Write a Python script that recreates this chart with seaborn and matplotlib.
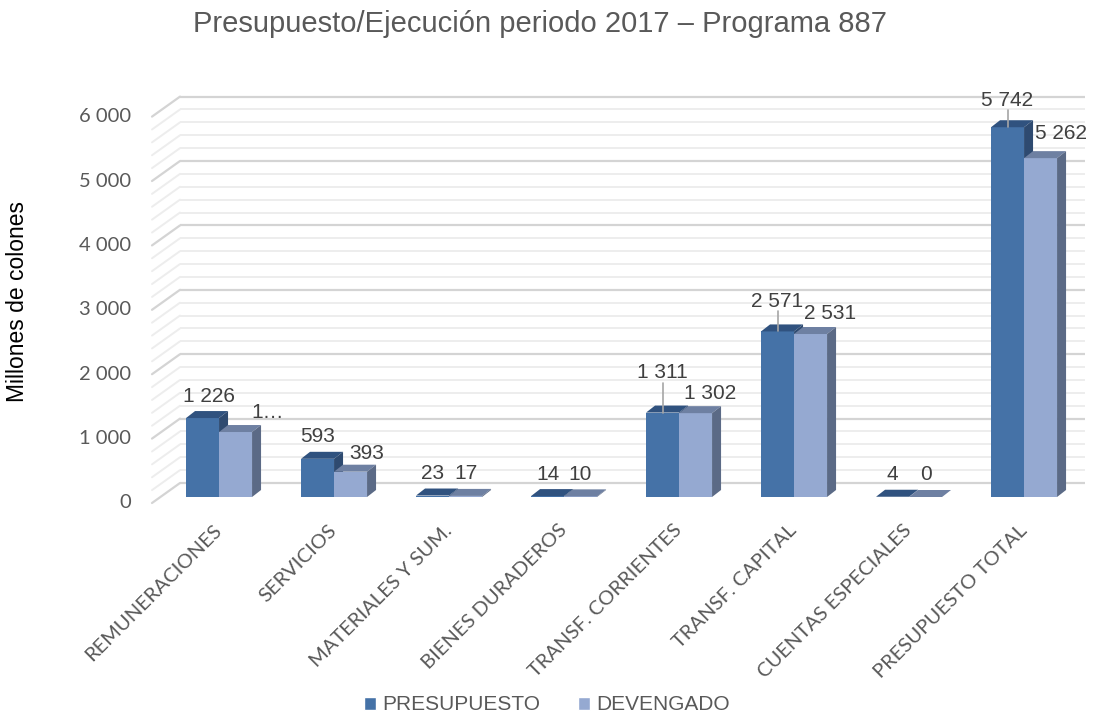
import matplotlib
matplotlib.use("Agg")
import matplotlib.pyplot as plt
from matplotlib.patches import Polygon, Patch
import seaborn as sns
import pandas as pd

# ---------------- data ----------------
categories = ["REMUNERACIONES", "SERVICIOS", "MATERIALES Y SUM.", "BIENES DURADEROS",
              "TRANSF. CORRIENTES", "TRANSF. CAPITAL", "CUENTAS ESPECIALES", "PRESUPUESTO TOTAL"]
presupuesto = [1226, 593, 23, 14, 1311, 2571, 4, 5742]
devengado = [1009, 393, 17, 10, 1302, 2531, 0, 5262]
series_names = ["PRESUPUESTO", "DEVENGADO"]
y_ticks = [0, 1000, 2000, 3000, 4000, 5000, 6000]
title = "Presupuesto/Ejecución periodo 2017 – Programa 887"
y_title = "Millones de colones"

def fmt(v):
    return f"{v:,}".replace(",", " ")

# labels as shown in the picture (one is truncated by the original chart)
label_texts = [[fmt(v) for v in presupuesto], [fmt(v) for v in devengado]]
label_texts[1][0] = "1…"

# ---------------- style ----------------
DARK = "#4572a7"; DARK_TOP = "#30527f"; DARK_SIDE = "#2e4a70"
LIGHT = "#95a9d1"; LIGHT_TOP = "#6e80a2"; LIGHT_SIDE = "#5b6a86"
TXT = "#595959"; LBL = "#404040"
GRID_MAJ = "#d4d4d4"; GRID_MIN = "#ededed"

sns.set_style("white")
plt.rcParams["font.family"] = ["Liberation Sans", "DejaVu Sans"]

df = pd.DataFrame({
    "categoria": categories * 2,
    "valor": presupuesto + devengado,
    "serie": [series_names[0]] * len(categories) + [series_names[1]] * len(categories),
})

W, H = 1094, 715
fig = plt.figure(figsize=(W / 100, H / 100), dpi=100)
ax_l, ax_r, ax_b, ax_t = 152, 1085, 497, 90
ax = fig.add_axes([ax_l / W, 1 - ax_b / H, (ax_r - ax_l) / W, (ax_b - ax_t) / H])

sns.barplot(data=df, x="categoria", y="valor", hue="serie", palette=[DARK, LIGHT],
            width=0.574, gap=0, saturation=1, linewidth=0, legend=False, ax=ax)

XL, XR = -0.583, 7.53
YT = 6320
ax.set_xlim(XL, XR)
ax.set_ylim(0, YT)
ppx = (ax_r - ax_l) / (XR - XL)   # pixels per x unit
ppy = (ax_b - ax_t) / YT          # pixels per y unit
dxu = lambda p: p / ppx
dyu = lambda p: p / ppy

# ---------------- back wall + side wall grid ----------------
depth_x, back_y, front_y = 28, 14, -6
for v in range(0, 6001, 200):
    major = v % 1000 == 0
    col = GRID_MAJ if major else GRID_MIN
    lw = 1.6 if major else 1.4
    ax.plot([XL + dxu(depth_x), XR], [v + dyu(back_y)] * 2, color=col, lw=lw,
            zorder=0.5 if major else 0.4, clip_on=False, solid_capstyle="butt")
    ax.plot([XL, XL + dxu(depth_x)], [v + dyu(front_y), v + dyu(back_y)], color=col,
            lw=lw, zorder=0.5 if major else 0.4, clip_on=False)

# y tick labels on the front-left edge
for v in y_ticks:
    ax.text(XL - dxu(21), v + dyu(front_y), fmt(v), ha="right", va="center",
            fontsize=14.5, family=["Lato", "DejaVu Sans"], color=TXT, clip_on=False)

# ---------------- faux 3D faces ----------------
ddx, ddy = dxu(9), dyu(7)
tops = {}
for ci, cont in enumerate(ax.containers):
    top_c = DARK_TOP if ci == 0 else LIGHT_TOP
    side_c = DARK_SIDE if ci == 0 else LIGHT_SIDE
    z = 2 + ci
    for i, p in enumerate(cont.patches):
        p.set_zorder(z)
        x0, w, h = p.get_x(), p.get_width(), p.get_height()
        top = Polygon([(x0, h), (x0 + w, h), (x0 + w + ddx, h + ddy), (x0 + ddx, h + ddy)],
                      closed=True, facecolor=top_c, edgecolor="none", zorder=z)
        side = Polygon([(x0 + w, 0), (x0 + w + ddx, ddy), (x0 + w + ddx, h + ddy), (x0 + w, h)],
                       closed=True, facecolor=side_c, edgecolor="none", zorder=z)
        ax.add_patch(top)
        ax.add_patch(side)
        tops[(ci, i)] = (x0 + w / 2, h)

# ---------------- data labels ----------------
# extra nudges (pixels) the original chart applied to some labels, plus leader flags
nudges = {(0, 0): (6, 0), (0, 4): (0, 18), (0, 5): (0, 8), (0, 7): (0, 5),
          (1, 0): (32, -2), (1, 1): (16, -4), (1, 4): (15, -2), (1, 5): (20, -1), (1, 7): (20, 3)}
leaders = {(0, 4), (0, 5), (0, 7)}
for (ci, i), (cx, h) in tops.items():
    ndx, ndy = nudges.get((ci, i), (0, 0))
    lx = cx + dxu(ndx)
    ly = h + ddy + dyu(15 + ndy)
    ax.text(lx, ly, label_texts[ci][i], ha="center", va="center", fontsize=15,
            color=LBL, zorder=10, clip_on=False)
    if (ci, i) in leaders:
        ax.plot([cx, lx], [h, ly - dyu(10)], color="#a6a6a6", lw=1.2, zorder=9)

# ---------------- axes cosmetics ----------------
for s in ax.spines.values():
    s.set_visible(False)
ax.set_yticks([])
ax.set_ylabel("")
ax.set_xlabel("")
ax.set_xticks(range(len(categories)))
ax.set_xticklabels(categories, rotation=45, ha="right", va="center", rotation_mode="anchor",
                   fontsize=14.5, family=["Lato", "DejaVu Sans"], color=TXT)
ax.tick_params(axis="x", length=0, pad=22)
ax.set_facecolor("none")

fig.text(0.494, 1 - 24 / H, title, ha="center", va="center", fontsize=21, color=TXT)
fig.text(18 / W, 1 - 302 / H, y_title, rotation=90, ha="center", va="center",
         fontsize=16.5, color="black")

handles = [Patch(facecolor=DARK), Patch(facecolor=LIGHT)]
leg = fig.legend(handles, series_names, loc="center", bbox_to_anchor=(0.5, 1 - 705 / H),
                 ncol=2, frameon=False, fontsize=15, handlelength=0.6, handleheight=0.6,
                 handletextpad=0.3, columnspacing=1.8)
for t in leg.get_texts():
    t.set_color(TXT)

fig.savefig("out.png", dpi=100)
